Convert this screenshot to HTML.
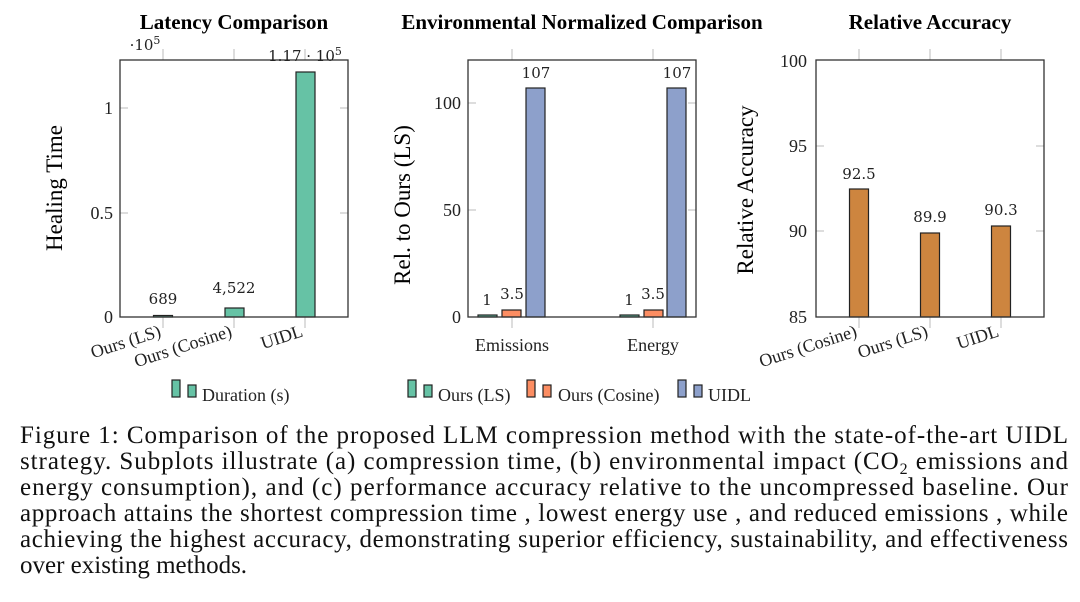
<!DOCTYPE html>
<html><head><meta charset="utf-8"><style>
html,body{margin:0;padding:0;background:#fff;}
svg{display:block;font-family:"Liberation Serif",serif;}
</style></head><body>
<svg width="1080" height="602" viewBox="0 0 1080 602" xmlns="http://www.w3.org/2000/svg">
<g font-weight="bold" font-size="21" text-anchor="middle" fill="#000">
<text x="234" y="29">Latency Comparison</text>
<text x="582" y="29">Environmental Normalized Comparison</text>
<text x="930" y="29">Relative Accuracy</text>
</g>
<g stroke="#bbb" stroke-width="1">
<line x1="163" y1="49" x2="163" y2="60"/><line x1="234" y1="49" x2="234" y2="60"/><line x1="305" y1="49" x2="305" y2="60"/>
<line x1="163" y1="317" x2="163" y2="328"/><line x1="234" y1="317" x2="234" y2="328"/><line x1="305" y1="317" x2="305" y2="328"/>
<line x1="120" y1="108" x2="128" y2="108"/><line x1="120" y1="213" x2="128" y2="213"/>
<line x1="340" y1="108" x2="348" y2="108"/><line x1="340" y1="213" x2="348" y2="213"/>
<line x1="512" y1="49" x2="512" y2="60"/><line x1="653" y1="49" x2="653" y2="60"/>
<line x1="512" y1="317" x2="512" y2="328"/><line x1="653" y1="317" x2="653" y2="328"/>
<line x1="468" y1="103" x2="476" y2="103"/><line x1="468" y1="210" x2="476" y2="210"/>
<line x1="688" y1="103" x2="696" y2="103"/><line x1="688" y1="210" x2="696" y2="210"/>
<line x1="859" y1="49" x2="859" y2="60"/><line x1="930" y1="49" x2="930" y2="60"/><line x1="1001" y1="49" x2="1001" y2="60"/>
<line x1="859" y1="317" x2="859" y2="328"/><line x1="930" y1="317" x2="930" y2="328"/><line x1="1001" y1="317" x2="1001" y2="328"/>
<line x1="816" y1="146" x2="824" y2="146"/><line x1="816" y1="231" x2="824" y2="231"/>
<line x1="1036" y1="146" x2="1044" y2="146"/><line x1="1036" y1="231" x2="1044" y2="231"/>
</g>
<g stroke="#222" stroke-width="1.2">
<rect x="153.5" y="315.5" width="19" height="1.5" fill="#66c2a5"/>
<rect x="225" y="308" width="19" height="9" fill="#66c2a5"/>
<rect x="296" y="72" width="19" height="245" fill="#66c2a5"/>
<rect x="478" y="315" width="19" height="2" fill="#66c2a5"/>
<rect x="502" y="310" width="19" height="7" fill="#fc8d62"/>
<rect x="526" y="88" width="19" height="229" fill="#8da0cb"/>
<rect x="620" y="315" width="19" height="2" fill="#66c2a5"/>
<rect x="644" y="310" width="19" height="7" fill="#fc8d62"/>
<rect x="667" y="88" width="19" height="229" fill="#8da0cb"/>
<rect x="849.5" y="189" width="19" height="128" fill="#cd853f"/>
<rect x="920.5" y="233" width="19" height="84" fill="#cd853f"/>
<rect x="991.5" y="226" width="19" height="91" fill="#cd853f"/>
</g>
<g fill="none" stroke="#333" stroke-width="1.3">
<rect x="120" y="60" width="228" height="257"/>
<rect x="468" y="60" width="228" height="257"/>
<rect x="816" y="60" width="228" height="257"/>
</g>
<g font-size="18" fill="#222" text-anchor="end">
<text x="113" y="114">1</text><text x="113" y="219">0.5</text><text x="113" y="323">0</text>
<text x="461" y="109">100</text><text x="461" y="216">50</text><text x="461" y="323">0</text>
<text x="807" y="67">100</text><text x="807" y="152">95</text><text x="807" y="237">90</text><text x="807" y="323">85</text>
</g>
<g font-size="15" fill="#222" text-anchor="middle" font-family="'DejaVu Serif','Liberation Serif',serif">
<text x="163" y="304">689</text><text x="234" y="293">4,522</text><text x="305" y="61">1.17 · 10<tspan font-size="11" dy="-6">5</tspan></text>
<text x="145" y="50">·10<tspan font-size="11" dy="-6">5</tspan></text>
<text x="487" y="305">1</text><text x="512" y="299">3.5</text><text x="536" y="78">107</text>
<text x="629" y="305">1</text><text x="653" y="299">3.5</text><text x="677" y="78">107</text>
<text x="859" y="179">92.5</text><text x="930" y="222">89.9</text><text x="1001" y="215">90.3</text>
</g>
<g font-size="18" fill="#222" text-anchor="end">
<text transform="translate(162,336) rotate(-18)">Ours (LS)</text>
<text transform="translate(233,336) rotate(-18)">Ours (Cosine)</text>
<text transform="translate(304,336) rotate(-18)">UIDL</text>
<text transform="translate(858,336) rotate(-18)">Ours (Cosine)</text>
<text transform="translate(929,336) rotate(-18)">Ours (LS)</text>
<text transform="translate(1000,336) rotate(-18)">UIDL</text>
</g>
<g font-size="18" fill="#222" text-anchor="middle">
<text x="512" y="351">Emissions</text><text x="653" y="351">Energy</text>
</g>
<g font-size="23" fill="#000" text-anchor="middle">
<text transform="translate(62,188) rotate(-90)">Healing Time</text>
<text transform="translate(410,205) rotate(-90)">Rel. to Ours (LS)</text>
<text transform="translate(753,190) rotate(-90)">Relative Accuracy</text>
</g>
<g stroke="#222" stroke-width="1.2">
<rect x="172" y="380" width="8" height="17" fill="#66c2a5"/><rect x="188" y="385" width="8" height="12" fill="#66c2a5"/>
<rect x="408" y="380" width="8" height="17" fill="#66c2a5"/><rect x="424" y="385" width="8" height="12" fill="#66c2a5"/>
<rect x="527" y="380" width="8" height="17" fill="#fc8d62"/><rect x="543" y="385" width="8" height="12" fill="#fc8d62"/>
<rect x="678" y="380" width="8" height="17" fill="#8da0cb"/><rect x="694" y="385" width="8" height="12" fill="#8da0cb"/>
</g>
<g font-size="18" fill="#222">
<text x="202" y="401">Duration (s)</text>
<text x="438" y="401">Ours (LS)</text>
<text x="558" y="401">Ours (Cosine)</text>
<text x="708" y="401">UIDL</text>
</g>
<g font-size="25" fill="#111">
<text x="20" y="443" textLength="1048" lengthAdjust="spacing">Figure 1: Comparison of the proposed LLM compression method with the state-of-the-art UIDL</text>
<text x="20" y="469" textLength="1048" lengthAdjust="spacing">strategy. Subplots illustrate (a) compression time, (b) environmental impact (CO<tspan font-size="16" dy="5">2</tspan><tspan dy="-5"> emissions and</tspan></text>
<text x="20" y="495" textLength="1048" lengthAdjust="spacing">energy consumption), and (c) performance accuracy relative to the uncompressed baseline. Our</text>
<text x="20" y="521" textLength="1048" lengthAdjust="spacing">approach attains the shortest compression time , lowest energy use , and reduced emissions , while</text>
<text x="20" y="547" textLength="1048" lengthAdjust="spacing">achieving the highest accuracy, demonstrating superior efficiency, sustainability, and effectiveness</text>
<text x="20" y="573">over existing methods.</text>
</g>
</svg>
</body></html>
